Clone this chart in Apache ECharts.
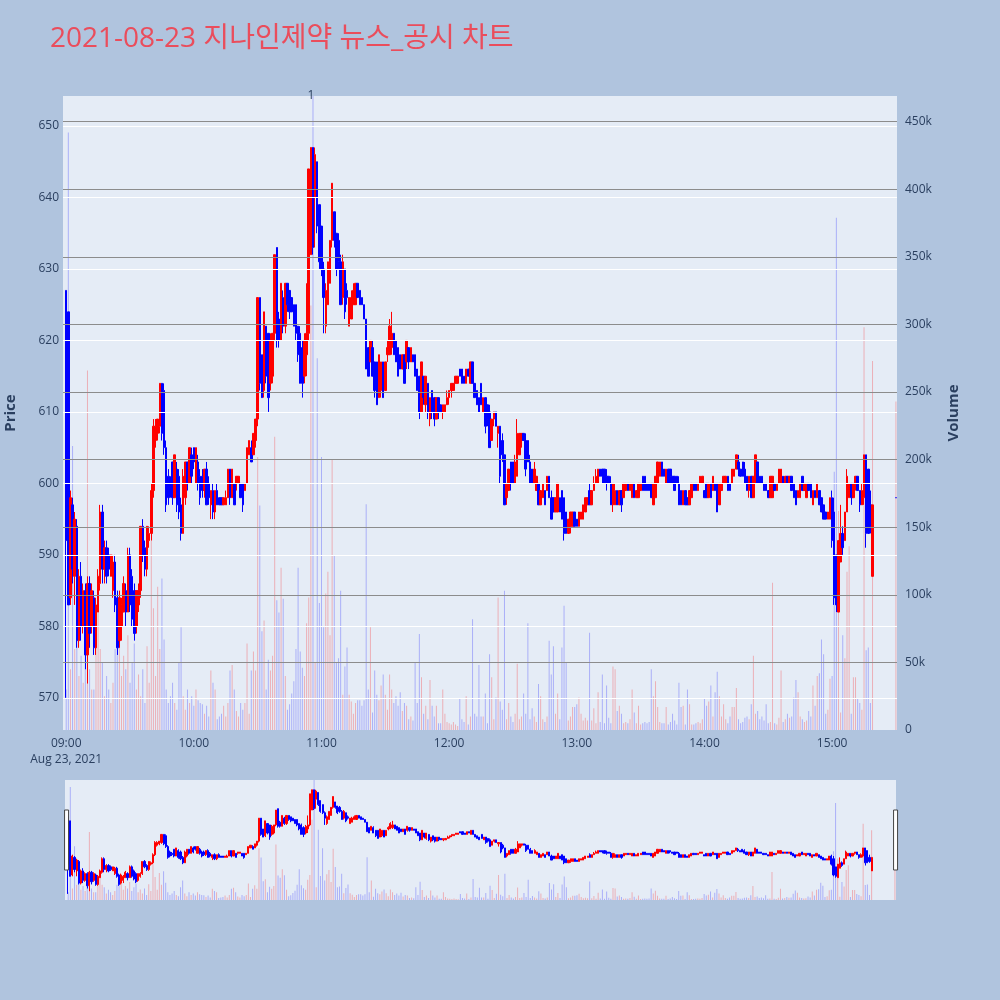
<!DOCTYPE html>
<html>
<head>
<meta charset="utf-8">
<script src="https://cdn.jsdelivr.net/npm/echarts@6.0.0/dist/echarts.min.js"></script>
<style>
html,body{margin:0;padding:0;background:#B0C4DE;}
#chart{width:1000px;height:1000px;}
</style>
</head>
<body>
<div id="chart"></div>
<script>
// ---- data: one candle per minute, 09:00 .. 15:19 (380 minutes) ----
const sessionStart = '09:00';
const opens = [
 // 09:00-09:30
 627,624,584,597,587,594,578,587,580,585, 576,586,580,584,577,582,586,596,588,591, 590,587,585,589,584,578,580,582,585,582, 590,
 // 09:31-10:03
 587,585,580,583,585,594,591,588,592, 593,599,606,607,608,614,613,605,601,600, 603,598,602,601,597,593,598,603,600,604, 605,600,603,601,
 // 10:04-10:37
 601,599,602,600,597,599,596,599,598,598, 597,597,598,602,598,600,600,600,600,600, 599,600,604,605,604,606,609,626,618,613, 622,621,614,615,
 // 10:38-11:09
 621,633,623,620,626,622,628,627,626,625, 625,622,621,619,615,618,621,632,647,640, 645,639,636,630,622,625,628,634,638,635, 634,631,
 // 11:10-11:42
 626,630,627,622,623,625,625,628,627,626, 625,623,619,617,619,617,617,612,613,617, 613,618,618,619,621,620,619,618,616,618, 617,619,617,
 // 11:43-12:15
 618,618,616,615,610,615,611,614,609,613, 612,609,612,611,610,610,611,612,613,613, 614,614,616,616,615,614,616,614,617,614, 613,612,614,
 // 12:16-12:53
 610,612,611,610,606,609,610,607,608,606, 604,598,599,603,603,600,601,604,606,607, 606,606,603,602,600,599,600,597,598,599, 599,601,598,598,596,596,598,599,
 // 12:54-13:35
 598,596,593,594,594,596,595,594,595,595, 596,597,599,597,599,600,600,602,602,602, 601,601,600,597,597,599,597,599,598,599, 600,599,598,600,598,598,599,601,601,600, 600,600,
 // 13:36-14:17
 597,598,600,601,603,602,600,602,602,601, 601,601,600,599,597,599,598,597,598,600, 600,599,600,600,599,600,598,600,599,600, 600,597,599,600,600,601,600,600,601,602, 603,602,
 // 14:18-14:59
 603,602,601,599,601,598,600,603,601,601, 600,600,599,598,598,600,599,600,600,601, 600,601,600,601,600,599,598,598,601,599, 598,600,600,597,599,598,599,598,597,596, 595,595,
 // 15:00-15:19
 598,596,590,582,589,593,592,596,598,600, 598,600,601,599,597,598,604,602,597,587
];
const closes = [
 592,583,598,588,595,578,587,580,585,576, 586,579,585,577,583,587,596,588,591,587, 588,590,589,583,577,584,583,586,582,590, 583,
 581,579,585,585,594,590,588,594,593, 599,608,608,609,614,607,605,597,598,599, 598,604,597,596,593,601,603,600,605,601, 603,605,600,598,
 599,602,597,598,599,596,599,597,597,597, 598,598,602,598,602,597,601,601,598,597, 600,605,606,603,607,609,626,614,612,624, 615,612,620,621,
 632,620,620,628,622,628,625,624,624,622, 621,618,614,614,620,621,644,647,633,646, 636,631,630,626,627,631,634,642,634,630, 631,625,
 631,624,626,626,626,627,628,626,625,625, 623,616,615,620,615,613,611,618,617,612, 617,619,622,621,618,617,615,616,618,614, 620,617,619,
 617,615,613,610,617,612,615,610,612,610, 609,612,610,610,611,611,612,613,614,614, 615,615,615,614,614,616,615,617,614,612, 611,610,611,
 612,608,609,605,609,610,608,608,601,604, 597,600,602,600,600,603,607,607,607,606, 602,603,600,600,602,601,597,599,600,597, 601,598,595,596,598,600,596,595,
 593,593,595,596,596,594,594,596,596,597, 598,598,597,599,600,601,602,601,601,600, 600,600,597,600,599,597,599,597,600,600, 599,600,600,598,599,600,600,599,599,599, 599,598,
 600,601,603,603,601,601,602,600,601,600, 599,600,597,597,599,597,597,599,600,599, 599,600,601,601,598,598,600,598,601,599, 596,600,600,601,601,599,599,602,602,604, 602,601,
 601,600,599,601,598,601,604,600,600,600, 599,599,598,601,601,599,600,602,602,600, 601,600,601,599,598,597,599,600,599,600, 600,599,598,599,598,600,597,596,595,595, 596,598,
 592,584,583,592,593,591,596,601,600,598, 600,601,599,597,599,604,593,593,594,597
];
const lows = [
 570,583,583,586,583,577,577,578,579,574, 572,577,579,576,576,582,585,586,586,586, 587,587,584,582,576,577,578,582,580,582, 582,
 580,578,579,582,584,589,587,587,591, 592,598,605,606,607,606,604,596,597,598, 597,598,596,595,592,593,597,599,600,600, 602,600,599,597,
 598,598,597,597,595,595,595,597,597,597, 597,597,598,597,598,597,599,600,598,596, 599,600,604,603,604,605,608,613,612,612, 614,610,613,614,
 620,619,619,620,621,621,624,623,624,622, 620,617,614,612,614,615,620,632,632,633, 635,630,629,621,621,625,628,633,633,629, 630,625,
 625,623,625,622,623,625,625,626,625,625, 623,616,615,617,615,612,611,612,612,612, 613,617,618,618,618,617,615,616,616,614, 616,616,617,
 617,615,613,609,610,611,610,609,608,609, 608,609,609,610,609,610,611,611,612,613, 614,614,615,614,614,614,615,614,614,612, 611,610,611,
 610,607,608,605,606,608,608,605,600,603, 597,597,599,599,600,600,601,604,605,606, 601,603,600,600,600,599,597,597,598,597, 599,598,595,596,596,596,596,595,
 592,593,593,593,594,594,594,594,595,595, 596,597,597,597,599,600,600,601,600,600, 599,600,597,596,597,597,597,596,598,599, 599,599,598,598,598,598,599,599,599,599, 599,598,
 597,598,600,601,601,601,600,600,600,600, 599,600,597,597,597,597,597,597,598,599, 599,599,600,600,598,598,598,598,599,599, 596,597,599,600,600,599,599,600,601,602, 601,601,
 601,600,599,598,598,598,600,600,600,600, 599,599,598,598,598,599,599,600,600,600, 600,600,600,599,598,597,598,598,599,599, 598,599,598,597,598,598,597,596,595,595, 595,595,
 591,583,582,582,589,590,592,596,598,597, 598,599,599,596,597,597,591,593,593,587
];
const highs = [
 627,624,599,598,596,595,588,589,586,586, 587,587,586,585,584,588,597,597,592,592, 591,590,590,590,585,585,584,587,586,591, 591,
 588,586,585,586,594,595,592,594,594, 600,609,609,609,614,614,614,606,602,601, 603,604,603,602,598,602,603,603,605,605, 605,605,604,602,
 602,602,603,601,599,600,599,600,598,598, 598,599,602,602,602,600,601,601,600,600, 600,605,606,606,607,609,626,626,618,624, 622,621,621,621,
 632,633,624,628,627,628,628,627,626,625, 625,622,622,620,621,628,644,647,647,647, 645,639,636,631,628,631,634,642,638,635, 635,632,
 632,630,628,626,627,628,628,628,627,626, 625,623,619,620,620,617,617,618,617,617, 617,620,623,624,621,620,619,618,618,618, 620,619,619,
 618,618,616,615,617,615,615,614,612,613, 612,612,612,611,611,611,613,613,614,614, 615,615,616,616,615,616,616,617,617,614, 613,612,614,
 612,612,611,611,609,610,610,608,608,607, 604,600,602,603,603,604,609,607,607,607, 607,606,604,602,603,601,600,599,600,599, 601,601,599,598,598,600,598,599,
 598,596,595,596,596,596,595,596,596,597, 598,598,600,599,601,602,602,602,602,602, 602,601,601,600,600,599,599,599,600,600, 600,600,600,600,599,600,600,601,601,600, 600,600,
 600,601,603,603,603,602,602,602,602,601, 601,601,601,599,599,599,598,599,600,600, 600,600,601,601,599,600,600,600,601,600, 600,600,600,601,601,601,600,602,602,604, 604,602,
 603,603,601,601,601,601,604,603,601,601, 600,600,599,601,601,600,600,602,602,601, 601,601,601,601,600,599,599,600,601,600, 600,600,600,599,599,600,599,598,597,596, 596,598,
 599,598,590,592,597,594,596,602,600,600, 600,601,601,599,600,604,604,602,599,597
];
// volume in thousands of shares
const volumesK = [
 30,442,45,210,60,150,40,55,35,60, 266,45,30,30,70,115,60,50,25,40, 30,20,35,60,95,80,40,55,45,70, 35,
 50,64,30,41,25,45,20,62,35, 140,90,40,106,60,112,67,30,20,25, 35,20,15,50,76,25,15,30,20,25, 18,30,22,20,
 19,12,18,10,44,35,30,8,10,12, 18,10,20,44,48,30,14,10,20,15, 20,64,12,44,58,44,202,166,73,81, 30,52,44,55,
 217,96,87,120,97,40,15,19,27,36, 60,120,58,46,40,79,98,314,560,50, 275,94,202,76,101,117,70,200,129,50, 53,103,
 26,47,61,26,21,12,20,22,22,18, 22,167,30,76,13,44,26,22,33,41, 26,15,41,30,20,25,18,28,14,20, 18,8,10,
 7,50,20,71,39,12,18,8,37,18, 10,18,5,5,30,12,6,5,4,6, 4,3,23,8,6,25,4,10,82,12, 10,48,10,
 10,27,5,56,39,8,24,98,21,15, 103,8,20,10,6,12,49,8,10,27, 12,79,8,16,10,6,34,25,8,6, 10,66,41,62,12,27,8,61,
 92,50,7,10,17,17,19,24,12,7, 9,7,72,7,16,5,28,6,41,5, 33,9,5,47,45,14,18,12,5,6, 5,8,30,13,5,18,4,5,6,5, 6,45,
 25,36,17,6,5,5,17,4,6,12, 7,4,35,17,18,4,30,19,4,4, 5,6,5,8,23,18,21,33,10,28, 43,25,10,19,8,5,10,17,17,31, 8,5,
 6,9,10,8,19,55,12,14,8,10, 7,19,5,6,109,5,4,9,44,6, 8,12,9,10,24,37,28,10,8,6, 7,14,10,33,18,40,42,67,56,12, 15,38,
 40,191,379,162,13,70,53,117,136,12, 39,39,23,20,15,298,59,61,20,273
];
// closing auction print
const auctionTime = '15:30';
const auctionOHLC = [598, 598, 598, 598];
const auctionVolumeK = 243;
// news marker
const newsTimes = ['10:55'];
const newsLabels = ['1'];
// axis ticks
const priceTicks = [570,580,590,600,610,620,630,640,650];
const volumeTicksK = [50,100,150,200,250,300,350,400,450];
const priceRange = [565.5, 654.2];
const volumeRangeK = [0, 469];
const axisFirst = '08:59';
const axisLast = '15:30';

// ---- build category axis (one slot per minute) ----
function toMin(s){const p=s.split(':');return (+p[0])*60+(+p[1]);}
function toHHMM(t){return String(Math.floor(t/60)).padStart(2,'0')+':'+String(t%60).padStart(2,'0');}
const categories=[];
for(let t=toMin(axisFirst);t<=toMin(axisLast);t++) categories.push(toHHMM(t));
const candleData = categories.map(()=>'-');
const volData = categories.map(()=>'-');
const UP='#FF0000', DOWN='#0000FF', UPV='rgba(255,0,0,0.26)', DOWNV='rgba(0,0,255,0.26)';
const off0 = toMin(sessionStart)-toMin(axisFirst);
for(let i=0;i<opens.length;i++){
  const k=off0+i;
  candleData[k]=[opens[i],closes[i],lows[i],highs[i]];
  volData[k]={value:volumesK[i],itemStyle:{color: closes[i]>=opens[i]?UPV:DOWNV}};
}
{
  const k=categories.indexOf(auctionTime);
  candleData[k]=auctionOHLC.slice();
  volData[k]={value:auctionVolumeK,itemStyle:{color: auctionOHLC[1]>=auctionOHLC[0]?UPV:DOWNV}};
}

const txt='#2a3f5f';
const chart=echarts.init(document.getElementById('chart'),null,{renderer:'canvas'});
const option={
  backgroundColor:'#B0C4DE',
  animation:false,
  title:{text:'2021-08-23 지나인제약 뉴스_공시 차트',left:50,top:25,padding:0,
    textStyle:{color:'#EA4D5C',fontSize:28,fontWeight:'normal',fontFamily:'Open Sans, Noto Sans CJK KR'}},
  grid:[
    {left:63,top:96,width:834,height:634,show:true,backgroundColor:'#E5ECF6',borderWidth:0,containLabel:false,outerBoundsMode:'none'},
    {left:65,top:780,width:831,height:120,show:true,backgroundColor:'#E5ECF6',borderWidth:0,containLabel:false,outerBoundsMode:'none'}
  ],
  xAxis:[
    {type:'category',gridIndex:0,data:categories,boundaryGap:true,
     axisLine:{show:false},axisTick:{show:false},splitLine:{show:false},
     axisLabel:{interval:(i,v)=>v.slice(3)==='00',
       formatter:(v)=> v==='09:00' ? '09:00\nAug 23, 2021' : v,
       color:txt,fontSize:12,fontFamily:'Open Sans',margin:6,lineHeight:16}},
    {type:'category',gridIndex:1,data:categories,boundaryGap:true,show:false}
  ],
  yAxis:[
    {type:'value',gridIndex:0,position:'left',min:priceRange[0],max:priceRange[1],splitNumber:9,
     name:'Price',nameLocation:'middle',nameGap:45,nameRotate:90,
     nameTextStyle:{color:txt,fontSize:15,fontWeight:'bold',fontFamily:'Open Sans'},
     axisLine:{show:false},axisTick:{show:false},splitLine:{show:false},
     axisLabel:{color:txt,fontSize:12,fontFamily:'Open Sans',margin:4,
       formatter:(v)=> priceTicks.includes(Math.round(v*1000)/1000) ? String(v) : ''}},
    {type:'value',gridIndex:0,position:'right',min:volumeRangeK[0],max:volumeRangeK[1],splitNumber:9,
     name:'Volume',nameLocation:'middle',nameGap:49,nameRotate:90,
     nameTextStyle:{color:txt,fontSize:15,fontWeight:'bold',fontFamily:'Open Sans'},
     axisLine:{show:false},axisTick:{show:false},splitLine:{show:false},
     axisLabel:{color:txt,fontSize:12,fontFamily:'Open Sans',margin:8,
       formatter:(v)=> v===0 ? '0' : (volumeTicksK.includes(v) ? v+'k' : '')}},
    {type:'value',gridIndex:1,min:priceRange[0],max:priceRange[1],show:false,splitLine:{show:false}},
    {type:'value',gridIndex:1,min:volumeRangeK[0],max:volumeRangeK[1],show:false,splitLine:{show:false}}
  ],
  dataZoom:[{
    type:'slider',xAxisIndex:1,filterMode:'none',start:0,end:100,zoomLock:true,
    left:65,width:831,top:780,height:120,
    backgroundColor:'rgba(0,0,0,0)',borderColor:'rgba(0,0,0,0)',fillerColor:'rgba(0,0,0,0)',
    showDataShadow:false,showDetail:false,brushSelect:false,moveHandleSize:0,
    handleIcon:'path://M0,0H4V60H0Z',handleSize:60,
    handleStyle:{color:'#ffffff',borderColor:'#444444',borderWidth:1},
    emphasis:{handleStyle:{color:'#ffffff',borderColor:'#444444',borderWidth:1}}
  }],
  series:[
    {type:'line',xAxisIndex:0,yAxisIndex:0,data:[],z:1,silent:true,
     markLine:{silent:true,symbol:['none','none'],label:{show:false},animation:false,
       lineStyle:{color:'#ffffff',width:1,type:'solid'},emphasis:{disabled:true},
       data:priceTicks.map(v=>({yAxis:v}))}},
    {type:'line',xAxisIndex:0,yAxisIndex:1,data:[],z:1,silent:true,
     markLine:{silent:true,symbol:['none','none'],label:{show:false},animation:false,
       lineStyle:{color:'#8c8c8c',width:1,type:'solid'},emphasis:{disabled:true},
       data:volumeTicksK.map(v=>({yAxis:v}))}},
    {name:'Volume',type:'bar',xAxisIndex:0,yAxisIndex:1,data:volData,barWidth:1,z:2,silent:true},
    {name:'Price',type:'candlestick',xAxisIndex:0,yAxisIndex:0,data:candleData,barWidth:2,z:3,silent:true,
     itemStyle:{color:UP,color0:DOWN,borderColor:UP,borderColor0:DOWN,borderWidth:1},
     markPoint:{silent:true,symbol:'circle',symbolSize:1,itemStyle:{color:'rgba(0,0,0,0)'},
       label:{show:true,position:'inside',formatter:(p)=>p.name,color:'#2a3f5f',fontSize:12,fontFamily:'Open Sans'},
       data:newsTimes.map((t,i)=>({name:newsLabels[i],coord:[t,priceRange[1]]}))}},
    {type:'bar',xAxisIndex:1,yAxisIndex:3,data:volData,barWidth:1,z:2,silent:true},
    {type:'candlestick',xAxisIndex:1,yAxisIndex:2,data:candleData,barWidth:1.6,z:3,silent:true,
     itemStyle:{color:UP,color0:DOWN,borderColor:UP,borderColor0:DOWN,borderWidth:1}}
  ]
};
chart.setOption(option);
</script>
</body>
</html>
